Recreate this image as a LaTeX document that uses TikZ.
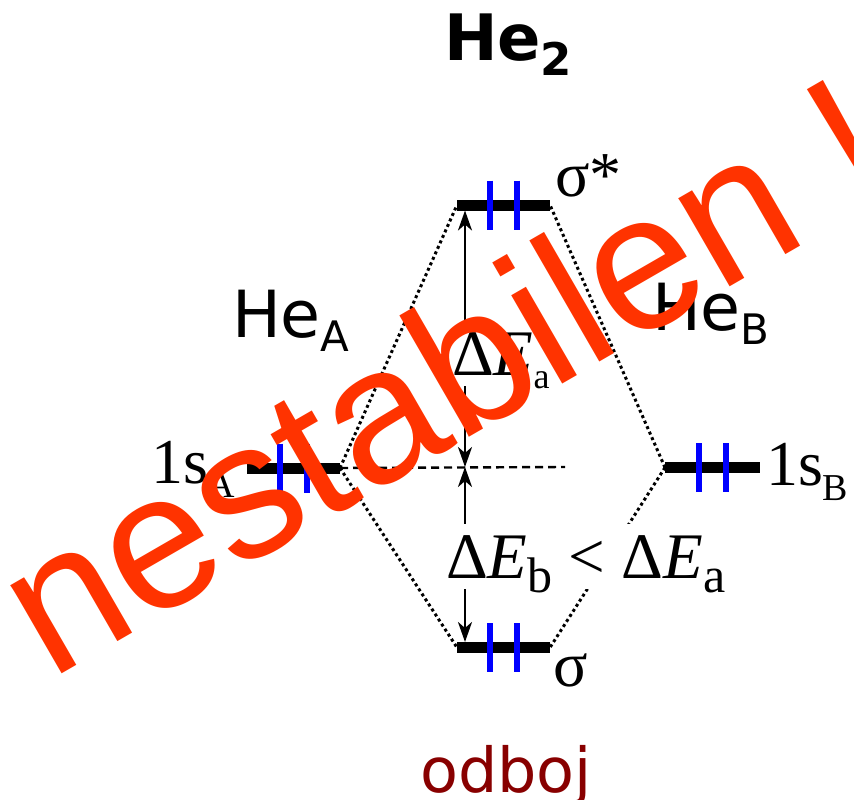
\documentclass[tikz,border=0pt]{standalone}
\usepackage{fontspec}
\setmainfont{Liberation Serif}
\newfontfamily\dvs{DejaVu Sans}
\newfontfamily\lsans{Liberation Sans}
\usetikzlibrary{arrows.meta,calc}
\definecolor{stampred}{HTML}{FF3300}
\definecolor{odbojred}{HTML}{880000}
\newcommand{\fsz}[1]{\fontsize{#1}{#1}\selectfont}
\newcommand{\lowsub}[3]{\smash{\raisebox{-#1pt}{\fsz{#2}#3}}}
\begin{document}
\begin{tikzpicture}[x=1pt,y=-1pt,
  every node/.style={inner sep=0pt, outer sep=0pt},
  mobar/.style={fill=black, minimum width=93pt, minimum height=11pt, inner sep=0pt},
  elec/.style={draw=blue, line width=6.5pt},
  mocorr/.style={line width=3pt, dash pattern=on 3pt off 3pt},
  guide/.style={line width=2.4pt, dash pattern=on 8pt off 5pt},
  enarrow/.style={line width=2.5pt, {Stealth[length=20pt,width=14pt,inset=6pt]}-{Stealth[length=20pt,width=14pt,inset=6pt]}},
  lbl/.style={anchor=base west},
  gaplbl/.style={anchor=base west, fill=white, inner xsep=1pt, inner ysep=11pt}
]
\useasboundingbox (0,0) rectangle (854,800);
\clip (0,0) rectangle (854,800);

% title
\node[lbl, font=\dvs\bfseries\fsz{64}] (title) at (444,61) {He\lowsub{14}{45}{2}};

% MO levels
\node[mobar] (sstar) at (503.5,205) {};
\node[mobar] (sA) at (293.5,468) {};
\node[mobar, minimum width=95pt] (sB) at (712.5,467.5) {};
\node[mobar] (sig) at (503.5,647.5) {};

% correlation lines
\draw[mocorr] (sA.east) -- (sstar.west);
\draw[mocorr] (sA.east) -- (sig.west);
\draw[mocorr] (sB.west) -- (sstar.east);
\draw[mocorr] (sB.west) -- (sig.east);

% reference dashed line
\coordinate (m) at (465,467);
\coordinate (dend) at (565,467);
\draw[guide] (sA.east) -- (dend);

% electrons
\foreach \n in {sstar,sA,sB,sig}
  \foreach \dx in {-13.5,13.5}
    \draw[elec] ([xshift=\dx pt]\n.center) ++(0,-24.5) -- ++(0,49);

% energy arrows
\draw[enarrow] (m |- sstar.south) -- (m);
\draw[enarrow] (m) -- (m |- sig.north);

% labels
\node[gaplbl, font=\fsz{65}] (ea) at (451,375) {Δ\textit{E}\lowsub{13}{36}{a}};
\node[gaplbl, font=\fsz{65}] (eb) at (445,578) {Δ\textit{E}\lowsub{14}{50}{b} < Δ\textit{E}\lowsub{14}{50}{a}};

\node[lbl, font=\dvs\fsz{65}] (heA) at (232,337) {He\lowsub{14}{42}{A}};
\node[lbl, font=\dvs\fsz{65}] (heB) at (652,330) {He\lowsub{14}{42}{B}};
\node[lbl, font=\fsz{64}] (lA) at (151,483) {1s\lowsub{14}{38}{A}};
\node[lbl, font=\fsz{64}] (lB) at (766,485) {1s\lowsub{15}{38}{B}};
\node[lbl, font=\fsz{64}] (lsstar) at (555,196) {σ*};
\node[lbl, font=\fsz{64}] (lsig) at (553,686) {σ};

\node[anchor=base, font=\dvs\fsz{62}, text=odbojred] (odboj) at (506,792) {odboj};

% stamp
\node[anchor=base west, rotate=30, font=\lsans\fsz{193}, text=stampred] (stamp) at (50,680) {nestabilen !};
\end{tikzpicture}
\end{document}
